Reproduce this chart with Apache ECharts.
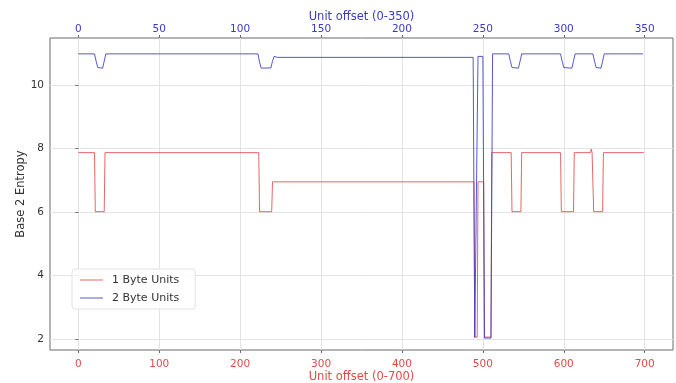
<!DOCTYPE html>
<html>
<head>
<meta charset="utf-8">
<script src="https://cdn.jsdelivr.net/npm/echarts@6/dist/echarts.min.js"></script>
<style>
  html, body { margin: 0; padding: 0; background: #fff; }
  #chart { width: 676px; height: 383px; }
</style>
</head>
<body>
<div id="chart"></div>
<script>
// Entropy per window, 1-byte units (offset 0-700), listed at the offsets where the level changes
const redOffsets = [0, 20, 21, 32, 33, 223, 224, 239, 240, 489, 490, 493, 494, 501, 502, 510, 511,
  535, 536, 547, 548, 596, 597, 612, 613, 633, 634, 635, 636, 637, 648, 649, 699];
const redEntropy = [7.87, 7.87, 6.01, 6.01, 7.87, 7.87, 6.01, 6.01, 6.95, 6.95, 2.06, 2.06, 6.95, 6.95, 2.06, 2.06, 7.87,
  7.87, 6.01, 6.01, 7.87, 7.87, 6.01, 6.01, 7.87, 7.87, 7.98, 7.87, 7.87, 6.01, 6.01, 7.87, 7.87];

// Entropy per window, 2-byte units (offset 0-350)
const blueOffsets = [0, 10, 11, 12, 15, 16, 17, 111, 112, 113, 119, 120, 121, 122, 123, 244, 245, 246, 247, 250, 251, 255, 256,
  266, 267, 268, 272, 273, 274, 298, 299, 300, 305, 306, 307, 318, 319, 320, 323, 324, 325, 349];
const blueEntropy = [10.98, 10.98, 10.75, 10.55, 10.53, 10.75, 10.98, 10.98, 10.72, 10.53, 10.54, 10.75, 10.9, 10.96, 10.87, 10.87, 2.05, 2.05, 10.9, 10.9, 2.03, 2.03, 10.98,
  10.98, 10.75, 10.55, 10.53, 10.75, 10.98, 10.98, 10.75, 10.55, 10.53, 10.75, 10.98, 10.98, 10.75, 10.55, 10.53, 10.75, 10.98, 10.98];

const bottomTicks = [0, 100, 200, 300, 400, 500, 600, 700];
const topTicks = [0, 50, 100, 150, 200, 250, 300, 350];
const entropyTicks = [2, 4, 6, 8, 10];

const RED = '#e44a4a';
const BLUE = '#3a3ac8';
const FONT = 'DejaVu Sans';

const pairs = (xs, ys) => xs.map((x, i) => [x, ys[i]]);

const chart = echarts.init(document.getElementById('chart'), null, { renderer: 'canvas' });

chart.setOption({
  animation: false,
  backgroundColor: '#fff',
  textStyle: { fontFamily: FONT },
  grid: {
    left: 50, right: 3, top: 38, bottom: 33,
    outerBoundsMode: 'none',
    containLabel: false,
    show: true, borderColor: '#6a6a6a', borderWidth: 1, backgroundColor: 'transparent'
  },
  legend: {
    orient: 'vertical',
    left: 72, top: 269,
    padding: [5, 16, 5, 8],
    backgroundColor: 'rgba(255,255,255,0.85)',
    borderColor: '#e2e2e2', borderWidth: 1, borderRadius: 3,
    itemWidth: 23, itemHeight: 1.2, itemGap: 6,
    icon: 'rect',
    textStyle: { fontFamily: FONT, fontSize: 11, color: '#333', lineHeight: 12, padding: [0, 0, 0, 4] },
    data: ['1 Byte Units', '2 Byte Units']
  },
  xAxis: [
    {
      type: 'value', position: 'bottom',
      min: -35, max: 735,
      name: 'Unit offset (0-700)', nameLocation: 'middle', nameGap: 21, nameMoveOverlap: false,
      nameTextStyle: { color: RED, fontSize: 11.5, fontFamily: FONT },
      axisLine: { show: false },
      axisTick: { show: true, length: 3, customValues: bottomTicks, lineStyle: { color: '#6a6a6a' } },
      axisLabel: { customValues: bottomTicks, color: RED, fontSize: 10.5, fontFamily: FONT, margin: 9 },
      splitLine: { show: true, lineStyle: { color: '#e3e3e3', width: 1 } }
    },
    {
      type: 'value', position: 'top',
      min: -17.5, max: 367.5,
      name: 'Unit offset (0-350)', nameLocation: 'middle', nameGap: 15, nameMoveOverlap: false,
      nameTextStyle: { color: BLUE, fontSize: 11.5, fontFamily: FONT },
      axisLine: { show: false },
      axisTick: { show: true, length: 3, customValues: topTicks, lineStyle: { color: '#6a6a6a' } },
      axisLabel: { customValues: topTicks, color: BLUE, fontSize: 10.5, fontFamily: FONT, margin: 3 },
      splitLine: { show: false }
    }
  ],
  yAxis: {
    type: 'value',
    min: 1.654, max: 11.48,
    name: 'Base 2 Entropy', nameLocation: 'middle', nameGap: 23, nameRotate: 90, nameMoveOverlap: false,
    nameTextStyle: { color: '#333', fontSize: 11.5, fontFamily: FONT },
    axisLine: { show: false },
    axisTick: { show: true, length: 3, customValues: entropyTicks, lineStyle: { color: '#6a6a6a' } },
    axisLabel: { customValues: entropyTicks, color: '#333', fontSize: 10.5, fontFamily: FONT, margin: 6 },
    splitLine: { show: true, lineStyle: { color: '#e3e3e3', width: 1 } }
  },
  series: [
    {
      name: '1 Byte Units', type: 'line', xAxisIndex: 0,
      data: pairs(redOffsets, redEntropy),
      showSymbol: false, symbol: 'none',
      lineStyle: { color: RED, width: 1, opacity: 0.85 },
      itemStyle: { color: RED, opacity: 0.7 },
      z: 3
    },
    {
      name: '2 Byte Units', type: 'line', xAxisIndex: 1,
      data: pairs(blueOffsets, blueEntropy),
      showSymbol: false, symbol: 'none',
      lineStyle: { color: BLUE, width: 1, opacity: 0.85 },
      itemStyle: { color: BLUE, opacity: 0.7 },
      z: 4
    }
  ]
});
</script>
</body>
</html>
